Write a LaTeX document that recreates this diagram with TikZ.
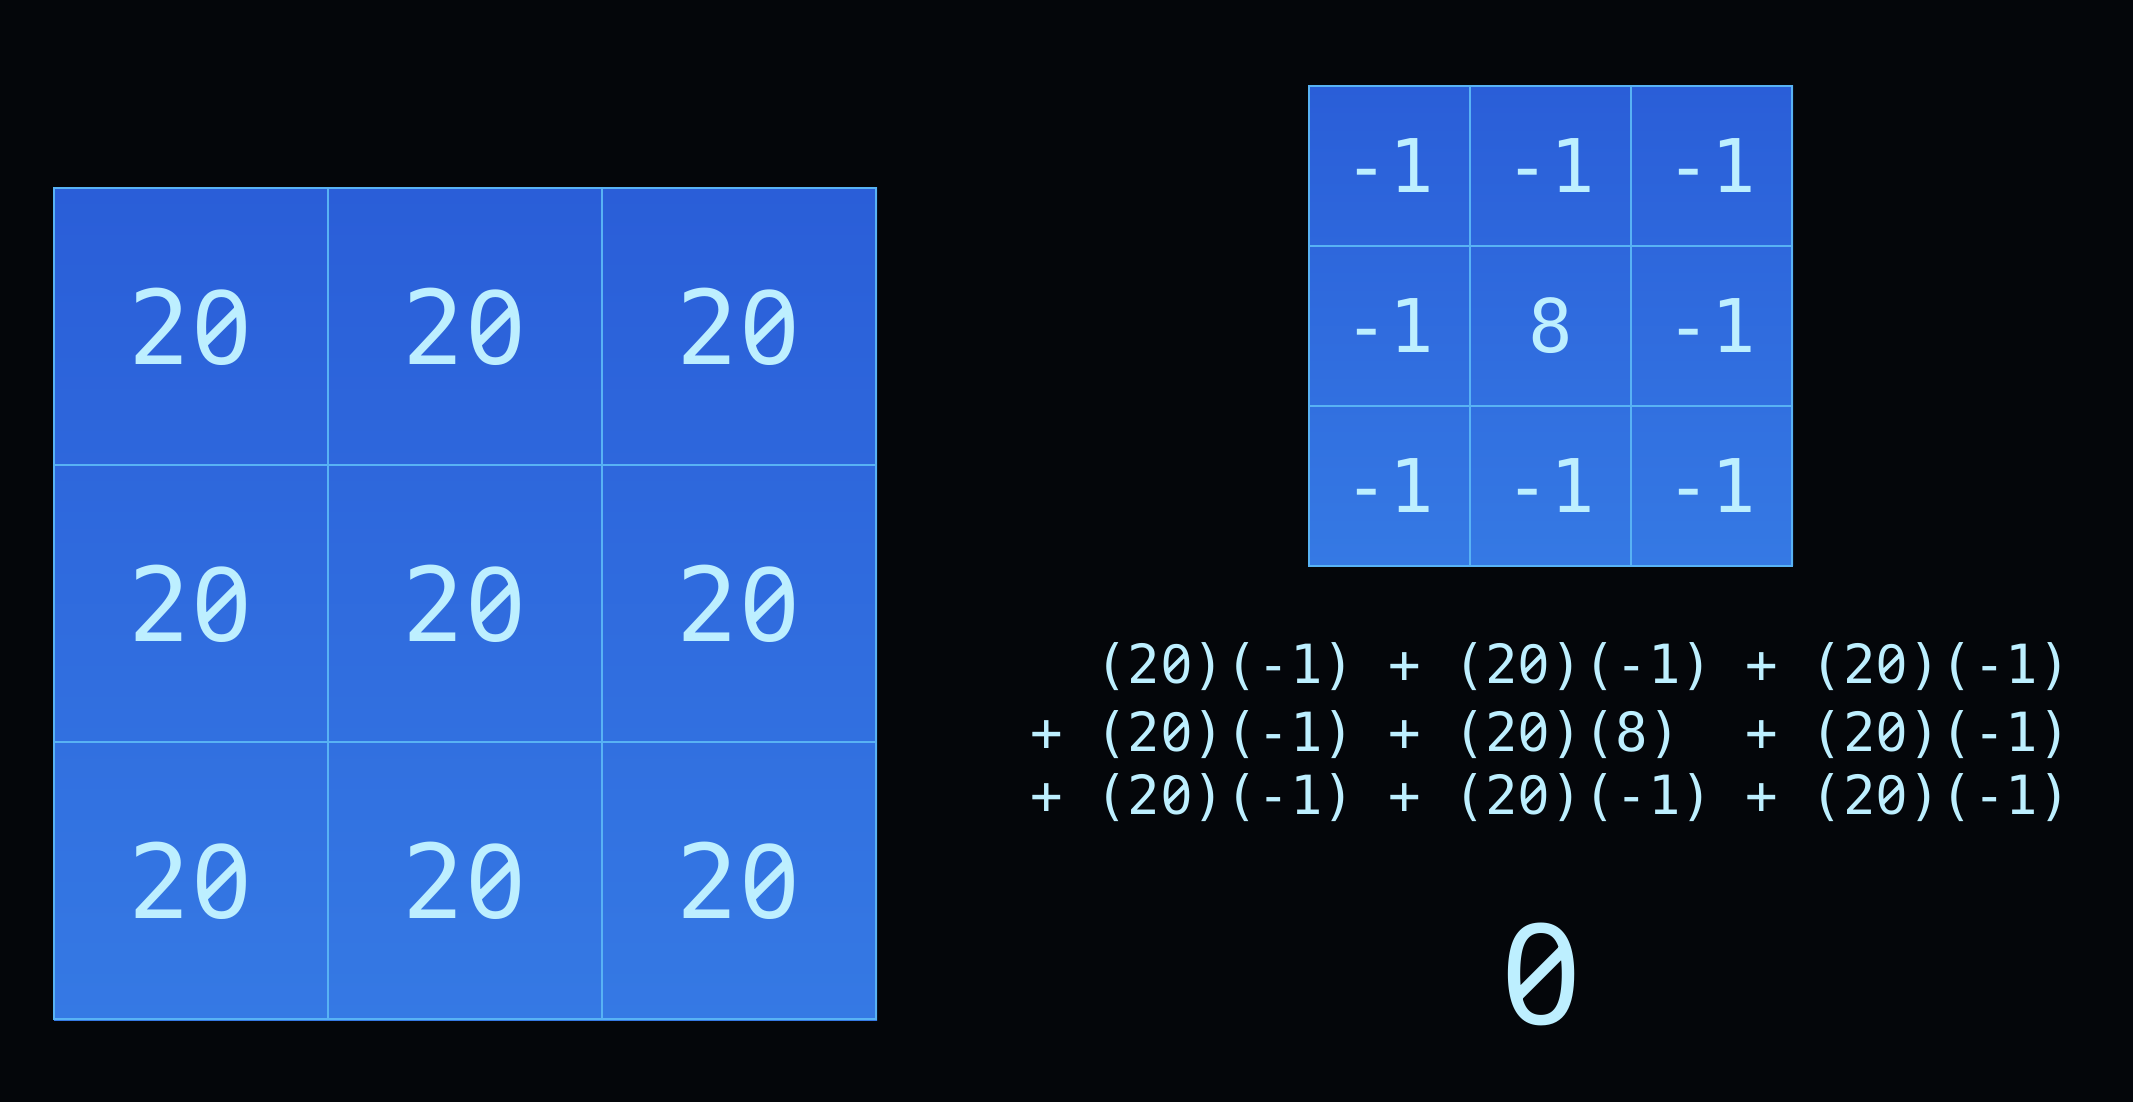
\documentclass[tikz,border=0pt]{standalone}
\usepackage{fontspec}
\setmonofont{DejaVu Sans Mono}
\newfontfamily\zerofont[Numbers=SlashedZero]{Noto Sans}
% slashed zero on the monospace grid
\newcommand\zr{\makebox[0.602em]{\zerofont 0}}

\definecolor{screen}{HTML}{04060A}
\definecolor{celltop}{HTML}{2A5ED8}
\definecolor{cellbottom}{HTML}{3579E4}
\definecolor{gridline}{HTML}{58B2F4}
\definecolor{digit}{HTML}{BDEFFF}

\tikzset{
  bigcell/.style={draw=gridline, line width=1.3pt, minimum width=137pt,
    minimum height=138.5pt, inner sep=0pt, text=digit,
    font=\ttfamily\fontsize{51.5pt}{60pt}\selectfont},
  smallcell/.style={draw=gridline, line width=1.1pt, minimum width=80.5pt,
    minimum height=80pt, inner sep=0pt, text=digit,
    font=\ttfamily\fontsize{37pt}{44pt}\selectfont},
  sumline/.style={anchor=west, inner sep=0pt, text=digit,
    font=\ttfamily\fontsize{27pt}{32pt}\selectfont}
}

\begin{document}
\begin{tikzpicture}[x=0.5pt, y=-0.5pt]
    \fill [screen] (0,0) rectangle (2133,1102);
    \useasboundingbox (0,0) rectangle (2133,1102);
    % image patch
    \shade [top color=celltop, bottom color=cellbottom] (54,188) rectangle (877,1020);
    \foreach \r in {1,2,3}
        \foreach \c in {1,2,3}
            \node [bigcell] (img\r\c) at ({54+274*(\c-0.5)},{188+277*(\r-0.5)}) {2\zr};
    % kernel
    \shade [top color=celltop, bottom color=cellbottom] (1309,86) rectangle (1793,565);
    \foreach \r in {1,2,3}
        \foreach \c in {1,2,3}
            \node [smallcell] (ker\r\c) at ({1309+161*(\c-0.5)},{86+160*(\r-0.5)})
                {\ifnum\r\c=22 8\else -1\fi};
    % weighted sum
    \node [sumline] (sum1) at (1030,667) {~~(2\zr)(-1) + (2\zr)(-1) + (2\zr)(-1)};
    \node [sumline] (sum2) at (1030,735) {+ (2\zr)(-1) + (2\zr)(8)~~+ (2\zr)(-1)};
    \node [sumline] (sum3) at (1030,798) {+ (2\zr)(-1) + (2\zr)(-1) + (2\zr)(-1)};
    \node [text=digit, font=\ttfamily\fontsize{70pt}{80pt}\selectfont] (result) at (1542,974) {\zr};
\end{tikzpicture}
\end{document}
